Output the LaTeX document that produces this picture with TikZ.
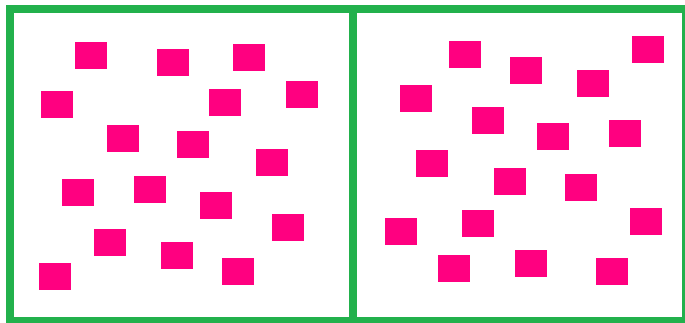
\documentclass[tikz,border=0pt]{standalone}
\definecolor{pgreen}{HTML}{22B14C}
\definecolor{ppink}{HTML}{FF0080}
\begin{document}
\begin{tikzpicture}[x=1pt,y=-1pt,
  frame/.style={draw=pgreen,line width=8pt},
  sq/.style={fill=ppink}]
\useasboundingbox (0,0) rectangle (685,323);
\fill[white] (0,0) rectangle (685,323);
% frames
\draw[frame] (10,8.7) rectangle (352.5,320.7);
\draw[frame] (352.5,8.7) rectangle (685.7,320.7);
% left panel squares
\foreach \x/\y in {75/41.7,156.7/49.3,233.3/44.3,41.3/91,209.3/89.3,286/81.3,
  106.7/124.7,177.3/131.3,255.7/148.7,62/179.3,134/176,199.7/192.3,
  271.7/214.3,94/229,161.3/241.7,39.3/262.7,222/257.7}
  \fill[sq] (\x,\y) rectangle ++(32,27);
% right panel squares
\foreach \x/\y in {449.3/41.3,510.3/57.3,632/36.3,399.7/84.7,577.3/70.3,
  471.7/107,537.3/123.3,609.3/119.7,415.7/150.3,494.3/168,564.7/174.3,
  385.3/217.7,462.3/209.7,630.3/208.3,438.3/254.7,515/249.7,596.3/257.7}
  \fill[sq] (\x,\y) rectangle ++(32,27);
\end{tikzpicture}
\end{document}
